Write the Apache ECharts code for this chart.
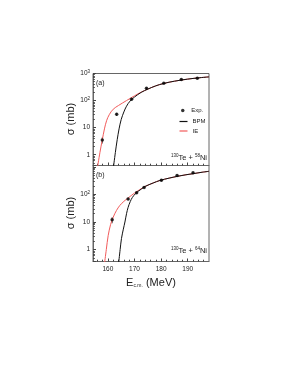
<!DOCTYPE html>
<html><head><meta charset="utf-8">
<script src="https://cdn.jsdelivr.net/npm/echarts@6/dist/echarts.min.js"></script>
<style>html,body{margin:0;padding:0;background:#fff}#c{width:291px;height:376px}</style>
</head><body><div id="c"></div>
<script>
// ---- data ----
const xMajorTicks = [160, 170, 180, 190];
const xMinorTicks = [156, 158, 162, 164, 166, 168, 172, 174, 176, 178, 182, 184, 186, 188, 192, 194, 196];
const yMinorTicks = [0.5,0.6,0.7,0.8,0.9,2,3,4,5,6,7,8,9,20,30,40,50,60,70,80,90,200,300,400,500,600,700,800,900];

const expA_E = [157.9, 163.3, 168.9, 174.5, 181.0, 187.6, 193.6];
const expA_S = [3.5, 31, 113, 283, 440, 600, 670];
const expA_Err = [0.9, 4, 10, 20, 30, 40, 45];
const bpmA = [[162.0,0.3],[162.8,1.2],[163.5,3.6],[164.2,9],[165,20],[166,38],[167,62],[168.3,95],[170,135],[172.5,200],[175,265],[178,350],[181,430],[185,520],[190,620],[194,690],[198,750]];
const ieA  = [[156.0,0.3],[157,1.2],[157.9,3.6],[158.7,9],[159.5,18],[160.5,30],[162,48],[164,66],[167,100],[170,150],[172.5,205],[175,265],[178,350],[181,430],[185,520],[190,620],[194,690],[198,750]];

const expB_E = [161.6, 167.6, 170.8, 173.6, 180.1, 186.0, 192.0];
const expB_S = [12, 69, 115, 180, 324, 490, 615];
const expB_Err = [3, 7, 10, 14, 24, 35, 45];
const bpmB = [[164.0,0.3],[164.6,1.0],[165.1,2.5],[165.8,5.5],[166.4,10],[167,20],[167.6,34],[168.4,55],[169.2,78],[170.3,105],[171.4,130],[172.7,160],[174,195],[177,260],[179.5,320],[183,390],[186,450],[189,510],[192,565],[195,630],[198,690]];
const ieB  = [[158.7,0.3],[159.4,1.0],[160.1,3.2],[161,8],[162,15],[163.2,26],[164.5,40],[166,56],[167.5,73],[170,112],[172,150],[174,195],[177,260],[179.5,320],[183,390],[186,450],[189,510],[192,565],[195,630],[198,690]];

const font = 'Liberation Sans, Arial, sans-serif';
const frame = '#666';

function yLabel(hideTop) {
  return function (v) {
    const l = Math.log10(v);
    if (Math.abs(l - Math.round(l)) > 1e-6) return '';
    const p = Math.round(l);
    if (hideTop && p === 3) return '';
    if (p === 0) return '1';
    if (p === 1) return '10';
    return '10{s|' + p + '}';
  };
}

function yAxes(gi, min, max, hideTop) {
  return [{
    type: 'log', gridIndex: gi, min: min, max: max, logBase: 10,
    axisLine: {show: true, lineStyle: {color: frame, width: 1}},
    axisTick: {show: true, inside: true, length: 3, lineStyle: {color: '#444'}},
    splitLine: {show: false},
    axisLabel: {formatter: yLabel(hideTop), fontSize: 6.5, fontFamily: font, color: '#222', margin: 3,
      rich: {s: {fontSize: 4.5, verticalAlign: 'top', padding: [0,0,4,0], fontFamily: font, color: '#222'}}}
  }, {
    type: 'log', gridIndex: gi, min: min, max: max, logBase: 10, position: 'left',
    axisLine: {show: false}, splitLine: {show: false}, axisLabel: {show: false},
    axisTick: {show: true, inside: true, length: 1.8, customValues: yMinorTicks, lineStyle: {color: '#444'}}
  }];
}

function xAxes(gi, showLabels) {
  return [{
    type: 'value', gridIndex: gi, min: 154.4, max: 198,
    axisLine: {show: true, onZero: false, lineStyle: {color: frame, width: 1}},
    axisTick: {show: true, inside: true, length: 3, customValues: xMajorTicks, lineStyle: {color: '#444'}},
    splitLine: {show: false},
    axisLabel: {show: showLabels, customValues: xMajorTicks, fontSize: 6.5, fontFamily: font, color: '#222', margin: 4}
  }, {
    type: 'value', gridIndex: gi, min: 154.4, max: 198, position: 'bottom',
    axisLine: {show: false}, splitLine: {show: false}, axisLabel: {show: false},
    axisTick: {show: true, inside: true, length: 1.8, customValues: xMinorTicks, lineStyle: {color: '#444'}}
  }];
}

function errSeries(xi, yi, E, S, Err) {
  return {
    type: 'custom', xAxisIndex: xi, yAxisIndex: yi, silent: true, clip: true,
    data: E.map((e, i) => [e, S[i] - Err[i], S[i] + Err[i]]),
    encode: {x: 0, y: [1, 2]},
    renderItem: function (params, api) {
      const lo = api.coord([api.value(0), api.value(1)]);
      const hi = api.coord([api.value(0), api.value(2)]);
      return {type: 'line', shape: {x1: lo[0], y1: lo[1], x2: hi[0], y2: hi[1]}, style: {stroke: '#111', lineWidth: 0.8}};
    }
  };
}

function lineSeries(name, xi, yi, data, color) {
  return {name: name, type: 'line', xAxisIndex: xi, yAxisIndex: yi, data: data, showSymbol: false,
    smooth: 0.35, clip: true, lineStyle: {color: color, width: 1}, itemStyle: {color: color}, z: 2};
}
function expSeries(xi, yi, E, S) {
  return {name: 'Exp.', type: 'scatter', xAxisIndex: xi, yAxisIndex: yi, data: E.map((e, i) => [e, S[i]]),
    symbol: 'circle', symbolSize: 3.5, itemStyle: {color: '#000'}, z: 5};
}

const red = '#f25b5b';
const chart = echarts.init(document.getElementById('c'), null, {renderer: 'canvas'});
chart.setOption({
  animation: false,
  backgroundColor: '#fff',
  grid: [
    {left: 93, top: 73.5, width: 116, height: 92, show: true, borderColor: frame, borderWidth: 1},
    {left: 93, top: 165.5, width: 116, height: 96, show: true, borderColor: frame, borderWidth: 1}
  ],
  xAxis: [].concat(xAxes(0, false), xAxes(1, true)),
  yAxis: [].concat(yAxes(0, 0.4, 1000, false), yAxes(1, 0.37, 1120, true)),
  legend: [
    {data: ['Exp.'], left: 176, top: 102.5, orient: 'vertical', itemWidth: 7, itemHeight: 3.5, icon: 'circle',
      textStyle: {fontSize: 6, fontFamily: font, color: '#222'}, selectedMode: false},
    {data: ['BPM', 'IE'], left: 174.5, top: 113.5, orient: 'vertical', itemWidth: 8, itemHeight: 1.2, icon: 'rect', itemGap: 3.5,
      textStyle: {fontSize: 6, fontFamily: font, color: '#222'}, selectedMode: false}
  ],
  series: [
    lineSeries('IE', 0, 0, ieA, red),
    lineSeries('BPM', 0, 0, bpmA, '#111'),
    errSeries(0, 0, expA_E, expA_S, expA_Err),
    expSeries(0, 0, expA_E, expA_S),
    lineSeries('IE', 2, 2, ieB, red),
    lineSeries('BPM', 2, 2, bpmB, '#111'),
    errSeries(2, 2, expB_E, expB_S, expB_Err),
    expSeries(2, 2, expB_E, expB_S)
  ],
  graphic: [
    {type: 'text', left: 96, top: 80, style: {text: '(a)', fontSize: 7, fontFamily: font, fill: '#222'}},
    {type: 'text', left: 96, top: 172, style: {text: '(b)', fontSize: 7, fontFamily: font, fill: '#222'}},
    {type: 'text', right: 84, top: 153, style: {text: '{s|130}Te + {s|58}Ni', fontSize: 7.5, fontFamily: font, fill: '#222',
      rich: {s: {fontSize: 4.5, verticalAlign: 'top', padding: [0,0,4,0], fontFamily: font, fill: '#222'}}}},
    {type: 'text', right: 84, top: 246, style: {text: '{s|130}Te + {s|64}Ni', fontSize: 7.5, fontFamily: font, fill: '#222',
      rich: {s: {fontSize: 4.5, verticalAlign: 'top', padding: [0,0,4,0], fontFamily: font, fill: '#222'}}}},
    {type: 'text', x: 71, y: 119, rotation: Math.PI / 2, style: {text: 'σ (mb)', fontSize: 11, fontFamily: font, fill: '#222', align: 'center', verticalAlign: 'middle'}},
    {type: 'text', x: 71, y: 213, rotation: Math.PI / 2, style: {text: 'σ (mb)', fontSize: 11, fontFamily: font, fill: '#222', align: 'center', verticalAlign: 'middle'}},
    {type: 'text', x: 151, y: 283, style: {text: 'E{sub|c.m.} (MeV)', fontSize: 11, fontFamily: font, fill: '#222', align: 'center', verticalAlign: 'middle',
      rich: {sub: {fontSize: 5, verticalAlign: 'bottom', padding: [5,0,0,0], fontFamily: font, fill: '#222'}}}}
  ]
});
</script></body></html>
